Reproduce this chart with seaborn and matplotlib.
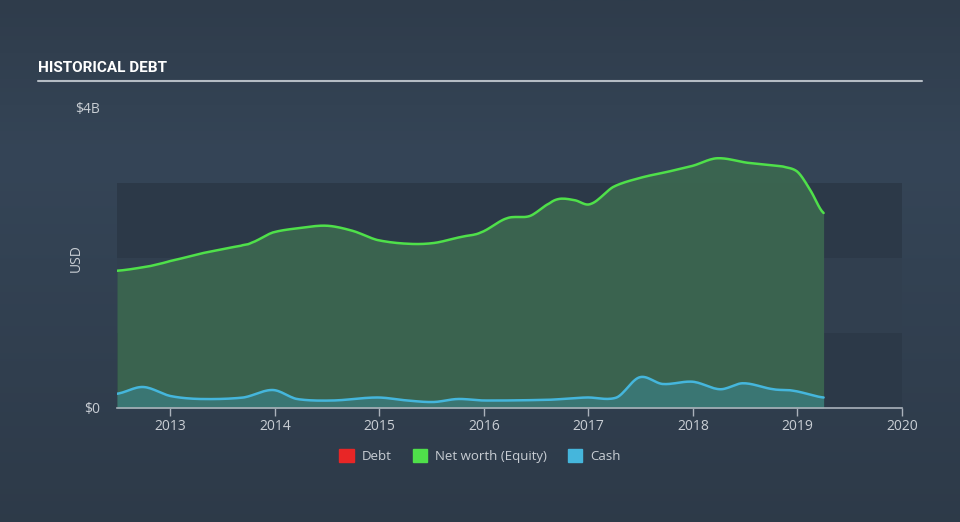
import numpy as np
import pandas as pd
import seaborn as sns
import matplotlib.pyplot as plt
from matplotlib.patches import Patch

# values (billions USD)
nw_year = [2012.49, 2012.80, 2013.00, 2013.29, 2013.67, 2013.77, 2013.98, 2014.24, 2014.50,
           2014.75, 2014.98, 2015.27, 2015.52, 2015.78, 2015.97, 2016.22, 2016.44, 2016.63,
           2016.73, 2016.87, 2017.02, 2017.24, 2017.50, 2017.76, 2018.00, 2018.23, 2018.52,
           2018.86, 2019.00, 2019.12, 2019.25]
nw_val = [1.83, 1.89, 1.96, 2.06, 2.16, 2.20, 2.34, 2.40, 2.43,
          2.36, 2.24, 2.19, 2.20, 2.28, 2.34, 2.53, 2.56, 2.73,
          2.79, 2.77, 2.72, 2.95, 3.07, 3.15, 3.23, 3.33, 3.27,
          3.22, 3.15, 2.91, 2.60]

cash_year = [2012.49, 2012.74, 2013.00, 2013.29, 2013.70, 2013.98, 2014.21, 2014.55, 2014.98,
             2015.27, 2015.52, 2015.75, 2016.00, 2016.63, 2016.98, 2017.27, 2017.49, 2017.71,
             2018.00, 2018.26, 2018.48, 2018.77, 2018.96, 2019.25]
cash_val = [0.19, 0.28, 0.16, 0.12, 0.14, 0.24, 0.12, 0.10, 0.14,
            0.10, 0.08, 0.12, 0.10, 0.11, 0.14, 0.14, 0.41, 0.32,
            0.35, 0.25, 0.33, 0.25, 0.23, 0.14]

year_ticks = [2013, 2014, 2015, 2016, 2017, 2018, 2019, 2020]

nw_df = pd.DataFrame({"year": nw_year, "value": nw_val})
cash_df = pd.DataFrame({"year": cash_year, "value": cash_val})

def smooth(df, n=400):
    # Catmull-Rom curve through the read points
    x = np.array(df["year"])
    y = np.array(df["value"])
    xs = np.linspace(x.min(), x.max(), n)
    ys = np.empty_like(xs)
    for i, xv in enumerate(xs):
        k = min(np.searchsorted(x, xv, side="right") - 1, len(x) - 2)
        k = max(k, 0)
        p0 = y[max(k - 1, 0)]; p1 = y[k]; p2 = y[k + 1]; p3 = y[min(k + 2, len(y) - 1)]
        t = (xv - x[k]) / (x[k + 1] - x[k])
        ys[i] = 0.5 * ((2 * p1) + (-p0 + p2) * t + (2 * p0 - 5 * p1 + 4 * p2 - p3) * t ** 2
                       + (-p0 + 3 * p1 - 3 * p2 + p3) * t ** 3)
    return pd.DataFrame({"year": xs, "value": ys})

nw_s = smooth(nw_df)
cash_s = smooth(cash_df)

sns.set_theme(style="dark")
plt.rcParams['font.family'] = ['Open Sans', 'DejaVu Sans']

text_col = "#c9ced4"
green_line = "#4fe04a"
cash_line = "#45b6dc"

fig = plt.figure(figsize=(9.6, 5.22), dpi=100)

# background gradient
bg = fig.add_axes([0, 0, 1, 1], zorder=-10)
grad = np.linspace(0, 1, 256)
top = np.array([0x2f, 0x3c, 0x4b]) / 255
mid = np.array([0x35, 0x45, 0x57]) / 255
img = np.zeros((256, 1, 3))
for c in range(3):
    img[:, 0, c] = np.interp(grad, [0, 0.3, 1], [top[c], mid[c], top[c] * 0.97])
bg.imshow(img, aspect="auto", extent=[0, 1, 0, 1], origin="upper")
bg.axis("off")

ax = fig.add_axes([117 / 960, 1 - 408 / 522, 785 / 960, 300 / 522])
ax.set_facecolor("none")

ax.axhspan(0, 1, color="#2c3948", zorder=0, lw=0)
ax.axhspan(1, 2, color="#313f4f", zorder=0, lw=0)
ax.axhspan(2, 3, color="#2c3948", zorder=0, lw=0)

ax.fill_between(nw_s["year"], nw_s["value"], color="#3b6650", alpha=0.95, zorder=1, lw=0)
ax.fill_between(cash_s["year"], cash_s["value"], color="#3b7a7a", alpha=0.85, zorder=2, lw=0)
sns.lineplot(data=nw_s, x="year", y="value", ax=ax, color=green_line, lw=1.8, zorder=3)
sns.lineplot(data=cash_s, x="year", y="value", ax=ax, color=cash_line, lw=1.8, zorder=3)

ax.set_xlim(2012.49, 2020)
ax.set_ylim(0, 4)
ax.set_xticks(year_ticks)
ax.set_xticklabels([str(y) for y in year_ticks])
ax.set_yticks([0, 4])
ax.set_yticklabels(["$0", "$4B"])
ax.tick_params(axis="x", colors="#aab2bb", labelcolor=text_col, labelsize=10, length=6,
               width=1, direction="out", bottom=True, pad=2)
ax.tick_params(axis="y", length=0, labelcolor=text_col, labelsize=10, pad=12)
ax.set_xlabel("")
ax.set_ylabel("USD", color=text_col, fontsize=10)
ax.yaxis.set_label_coords((84 - 117) / 785, 0.5)
for s in ["top", "right", "left"]:
    ax.spines[s].set_visible(False)
ax.spines["bottom"].set_color("#aab2bb")
ax.spines["bottom"].set_linewidth(1.2)
ax.grid(False)

fig.text(38 / 960, 1 - 68 / 522, "HISTORICAL DEBT", color="white", fontsize=11,
         fontweight="bold", ha="left", va="center", family=["Roboto", "DejaVu Sans"])
fig.add_artist(plt.Line2D([38 / 960, 922 / 960], [1 - 81 / 522, 1 - 81 / 522],
                          color="#b5bcc4", lw=1.5))

handles = [Patch(color="#e82626", label="Debt"),
           Patch(color="#4fe04a", label="Net worth (Equity)"),
           Patch(color="#45b6dc", label="Cash")]
fig.legend(handles=handles, loc="center", bbox_to_anchor=(480 / 960, 1 - 456 / 522),
           ncol=3, frameon=False, fontsize=9.5, labelcolor=text_col, handlelength=1.1,
           handleheight=1.1, columnspacing=1.6, handletextpad=0.6)

fig.savefig("out.png", dpi=100)
